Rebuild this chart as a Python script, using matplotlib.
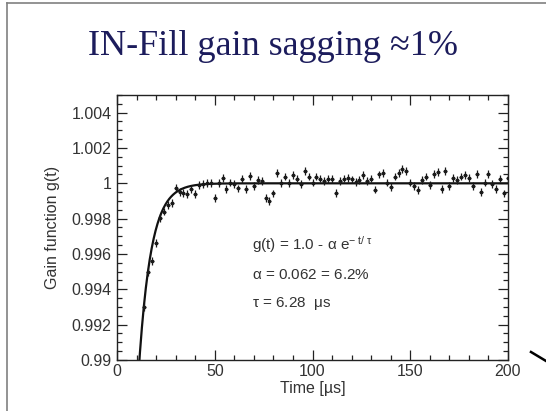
import matplotlib
matplotlib.use("Agg")
import matplotlib.pyplot as plt
import numpy as np
from matplotlib.lines import Line2D
from matplotlib.ticker import MultipleLocator, FixedFormatter, FixedLocator

plt.rcParams["font.family"] = ["Liberation Sans", "DejaVu Sans"]
plt.rcParams["mathtext.fontset"] = "custom"
plt.rcParams["mathtext.rm"] = "Liberation Sans"
plt.rcParams["mathtext.it"] = "Liberation Sans"

TITLE = "IN-Fill gain sagging \u22481%"

# fit parameters shown on the chart
ALPHA = 0.062
TAU = 6.28

TIME_US = [
    14, 16, 18, 20, 22, 24, 26, 28, 30, 32, 34, 36, 38, 40, 42, 44, 46, 48,
    50, 52, 54, 56, 58, 60, 62, 64, 66, 68, 70, 72, 74, 76, 78, 80, 82, 84,
    86, 88, 90, 92, 94, 96, 98, 100, 102, 104, 106, 108, 110, 112, 114, 116,
    118, 120, 122, 124, 126, 128, 130, 132, 134, 136, 138, 140, 142, 144,
    146, 148, 150, 152, 154, 156, 158, 160, 162, 164, 166, 168, 170, 172,
    174, 176, 178, 180, 182, 184, 186, 188, 190, 192, 194, 196, 198, 200,
]
GAIN = [
    0.9930, 0.9950, 0.99559, 0.99663, 0.99805, 0.99840, 0.99878, 0.99890,
    0.99976, 0.99951, 0.99947, 0.99941, 0.99966, 0.99941, 0.99990, 0.99995,
    1.00000, 1.00000, 0.99919, 1.00000, 1.00032, 0.99970, 1.00004, 0.99998,
    0.99971, 1.00023, 0.99966, 1.00041, 0.99985, 1.00017, 1.00013, 0.99919,
    0.99900, 0.99943, 1.00060, 1.00000, 1.00038, 1.00000, 1.00045, 1.00027,
    0.99998, 1.00070, 1.00038, 1.00004, 1.00038, 1.00027, 1.00013, 1.00023,
    1.00023, 0.99947, 1.00013, 1.00027, 1.00032, 1.00022, 1.00008, 1.00017,
    1.00045, 1.00015, 1.00027, 0.99965, 1.00050, 1.00057, 1.00004, 0.99981,
    1.00038, 1.00060, 1.00083, 1.00070, 1.00004, 0.99985, 0.99962, 1.00019,
    1.00038, 0.99989, 1.00051, 1.00064, 0.99970, 1.00070, 0.99985, 1.00032,
    1.00019, 1.00038, 1.00045, 1.00032, 0.99985, 1.00051, 0.99951, 1.00004,
    1.00051, 0.99994, 0.99970, 1.00027, 0.99943, 1.00030,
]
GAIN_ERR = 0.00022
TIME_ERR = 1.0

Y_TICKS = [0.99, 0.992, 0.994, 0.996, 0.998, 1.0, 1.002, 1.004]
Y_TICK_LABELS = ["0.99", "0.992", "0.994", "0.996", "0.998", "1", "1.002", "1.004"]
X_TICKS = [0, 50, 100, 150, 200]

FIT_LINES = [
    r"g(t) = 1.0 - $\alpha$ e$^{\mathregular{-\ t/\ \tau}}$",
    r"$\alpha$ = 0.062 = 6.2%",
    r"$\tau$ = 6.28  $\mu$s",
]
FIT_TEXT_Y = [0.434, 0.322, 0.214]

TEXT_GRAY = "#333333"

fig = plt.figure(figsize=(5.46, 4.11), dpi=100)
fig.patch.set_facecolor("white")

# slide frame and the stray mark at the right edge
fig.add_artist(Line2D([0.013, 1.0], [0.992, 0.992], color="#808080", lw=1.2))
fig.add_artist(Line2D([0.013, 0.013], [0.0, 0.992], color="#808080", lw=1.2))
fig.add_artist(Line2D([0.9725, 1.0], [0.1436, 0.1217], color="black", lw=1.8))

fig.text(0.5, 0.887, TITLE, ha="center", va="center", fontsize=26,
         color="#1c1c5c", family=["Liberation Serif", "DejaVu Serif"])

ax = fig.add_axes([0.2143, 0.1241, 0.7161, 0.6448])

t_fit = np.linspace(0.5, 200, 800)
g_fit = 1.0 - ALPHA * np.exp(-t_fit / TAU)
ax.plot(t_fit, g_fit, color="#111111", lw=1.6, zorder=2)

ax.errorbar(TIME_US, GAIN, yerr=GAIN_ERR, xerr=TIME_ERR, fmt="s", ms=1.8,
            color="#1a1a1a", ecolor="#1a1a1a", elinewidth=0.9, capsize=0, zorder=3)

ax.set_xlim(0, 200)
ax.set_ylim(0.99, 1.005)

ax.xaxis.set_major_locator(FixedLocator(X_TICKS))
ax.xaxis.set_minor_locator(MultipleLocator(10))
ax.yaxis.set_major_locator(FixedLocator(Y_TICKS))
ax.yaxis.set_major_formatter(FixedFormatter(Y_TICK_LABELS))
ax.yaxis.set_minor_locator(MultipleLocator(0.0005))

ax.tick_params(which="both", direction="in", top=True, right=True,
               colors="#222222", labelcolor=TEXT_GRAY, labelsize=11.5, width=0.9)
ax.tick_params(which="major", length=7)
ax.tick_params(which="minor", length=3.5)
ax.tick_params(axis="x", pad=3)
ax.tick_params(axis="y", pad=4)
for sp in ax.spines.values():
    sp.set_color("#222222")
    sp.set_linewidth(1.0)

ax.set_xlabel("Time [\u00b5s]", fontsize=11.5, color=TEXT_GRAY, labelpad=1)
ax.set_ylabel("Gain function g(t)", fontsize=11.5, color=TEXT_GRAY, labelpad=8)

for line, ty in zip(FIT_LINES, FIT_TEXT_Y):
    ax.text(0.345, ty, line, transform=ax.transAxes, fontsize=11,
            color=TEXT_GRAY, ha="left", va="center")

fig.savefig("out.png", dpi=100)
